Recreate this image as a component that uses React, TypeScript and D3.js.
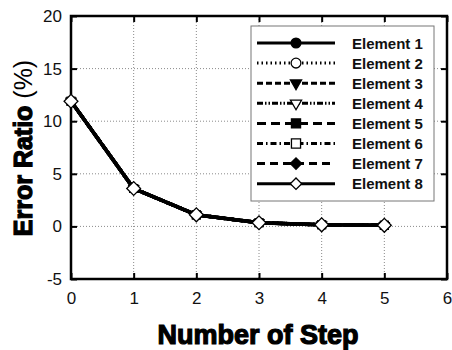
import React, { useRef, useEffect } from "react";
import * as d3 from "d3";

const steps = [0, 1, 2, 3, 4, 5];
const elementNames = ["Element 1", "Element 2", "Element 3", "Element 4", "Element 5", "Element 6", "Element 7", "Element 8"];
// all eight elements converge on the same curve in the figure
const errorRatio = [11.9, 3.6, 1.1, 0.35, 0.15, 0.1];
const xTicks = [0, 1, 2, 3, 4, 5, 6];
const yTicks = [-5, 0, 5, 10, 15, 20];

const dashes = ["none", "1.5,3", "6,3", "6,2,1.5,2,1.5,2", "9,5", "6,3,1.5,3", "8,5", "none"];
const markers = ["circle", "circle", "triangle", "triangle", "square", "square", "diamond", "diamond"];
const filled = [true, false, true, false, true, false, true, false];

const App = () => {
    const svgRef = useRef(null);

    const width = 452;
    const height = 350;
    const left = 71, right = 447, top = 16, bottom = 279;

    useEffect(() => {
        const svg = d3.select(svgRef.current);
        svg.selectAll("*").remove();

        const x = d3.scaleLinear().domain([0, 6]).range([left, right]);
        const y = d3.scaleLinear().domain([-5, 20]).range([bottom, top]);
        const fmt = (d) => String(d);

        svg.append("rect").attr("width", width).attr("height", height).attr("fill", "white");

        // grid
        const grid = svg.append("g").attr("stroke", "#8a8a8a").attr("stroke-width", 1).attr("stroke-dasharray", "1,2");
        grid.selectAll(".gx").data(xTicks.slice(1, -1)).join("line")
            .attr("x1", d => x(d)).attr("x2", d => x(d)).attr("y1", top).attr("y2", bottom);
        grid.selectAll(".gy").data(yTicks.slice(1, -1)).join("line")
            .attr("y1", d => y(d)).attr("y2", d => y(d)).attr("x1", left).attr("x2", right);

        // axes, ticks pointing inward
        const fontStyle = (g) => g.selectAll("text")
            .attr("font-family", "Liberation Sans, Arial, sans-serif")
            .attr("font-size", 17).attr("fill", "#111");

        svg.append("g").attr("transform", `translate(0,${bottom})`)
            .call(d3.axisBottom(x).tickValues(xTicks).tickSizeInner(-6).tickSizeOuter(0).tickPadding(13).tickFormat(fmt))
            .call(g => g.select(".domain").remove())
            .call(g => g.selectAll("line").attr("stroke-width", 2))
            .call(fontStyle);
        svg.append("g").attr("transform", `translate(${left},0)`)
            .call(d3.axisLeft(y).tickValues(yTicks).tickSizeInner(-6).tickSizeOuter(0).tickPadding(9).tickFormat(fmt))
            .call(g => g.select(".domain").remove())
            .call(g => g.selectAll("line").attr("stroke-width", 2))
            .call(fontStyle);
        svg.append("g").attr("transform", `translate(0,${top})`)
            .call(d3.axisTop(x).tickValues(xTicks).tickSizeInner(-6).tickSizeOuter(0).tickFormat(() => ""))
            .call(g => g.select(".domain").remove())
            .call(g => g.selectAll("line").attr("stroke-width", 2));
        svg.append("g").attr("transform", `translate(${right},0)`)
            .call(d3.axisRight(y).tickValues(yTicks).tickSizeInner(-6).tickSizeOuter(0).tickFormat(() => ""))
            .call(g => g.select(".domain").remove())
            .call(g => g.selectAll("line").attr("stroke-width", 2));

        svg.append("rect").attr("x", left).attr("y", top)
            .attr("width", right - left).attr("height", bottom - top)
            .attr("fill", "none").attr("stroke", "#000").attr("stroke-width", 2.5);

        const drawMarker = (g, kind, cx, cy, isFilled, s) => {
            const fill = isFilled ? "#000" : "#fff";
            if (kind === "circle") {
                g.append("circle").attr("cx", cx).attr("cy", cy).attr("r", s * 0.7)
                    .attr("fill", fill).attr("stroke", "#000").attr("stroke-width", 1.3);
            } else {
                const sym = kind === "triangle" ? d3.symbolTriangle : d3.symbolSquare;
                const area = kind === "square" ? (s * 1.3) ** 2 : kind === "diamond" ? (s * 1.15) ** 2 : (s * 1.6) ** 2 * 0.43;
                const rot = kind === "triangle" ? " rotate(180)" : kind === "diamond" ? " rotate(45)" : "";
                g.append("path").attr("d", d3.symbol(sym, area)())
                    .attr("transform", `translate(${cx},${cy})` + rot)
                    .attr("fill", fill).attr("stroke", "#000").attr("stroke-width", 1.3);
            }
        };

        // series
        const line = d3.line().x((d, i) => x(steps[i])).y(d => y(d));
        elementNames.forEach((name, k) => {
            svg.append("path").datum(errorRatio)
                .attr("fill", "none").attr("stroke", "#000").attr("stroke-width", 3.5)
                .attr("stroke-dasharray", dashes[k]).attr("d", line);
        });
        elementNames.forEach((name, k) => {
            const g = svg.append("g");
            errorRatio.forEach((v, i) => drawMarker(g, markers[k], x(steps[i]), y(v), filled[k], k === 7 ? 8.5 : 6));
        });

        // legend
        const lx = 251, ly = 26, lw = 183, lh = 175, rowH = 20.1;
        const leg = svg.append("g");
        leg.append("rect").attr("x", lx).attr("y", ly).attr("width", lw).attr("height", lh)
            .attr("fill", "#fff").attr("stroke", "#777").attr("stroke-width", 1);
        elementNames.forEach((name, k) => {
            const cy = 43 + k * rowH;
            leg.append("line").attr("x1", 257).attr("x2", 335).attr("y1", cy).attr("y2", cy)
                .attr("stroke", "#000").attr("stroke-width", 3).attr("stroke-dasharray", dashes[k]);
            drawMarker(leg, markers[k], 296, cy, filled[k], 7);
            leg.append("text").attr("x", 352).attr("y", cy + 5.5)
                .attr("font-family", "Liberation Sans, Arial, sans-serif").attr("font-weight", "bold")
                .attr("font-size", 15).attr("fill", "#111").text(name);
        });

        // axis titles
        svg.append("text").attr("x", (left + right) / 2 - 1).attr("y", 344).attr("text-anchor", "middle")
            .attr("font-family", "Liberation Sans, Arial, sans-serif").attr("font-weight", "bold")
            .attr("font-size", 27).attr("stroke", "#000").attr("stroke-width", 1.2).text("Number of Step");

        const yt = svg.append("text").attr("transform", "translate(32,148) rotate(-90)").attr("text-anchor", "middle")
            .attr("font-family", "Liberation Sans, Arial, sans-serif").attr("font-size", 25);
        yt.append("tspan").attr("font-weight", "bold").attr("stroke", "#000").attr("stroke-width", 1.2).text("Error Ratio ");
        yt.append("tspan").text("(%)");
    }, []);

    return (
        <div style={{ position: "absolute", left: 0, top: 0 }}>
            <svg ref={svgRef} width={width} height={height} style={{ display: "block" }}></svg>
        </div>
    );
};

export default App;
